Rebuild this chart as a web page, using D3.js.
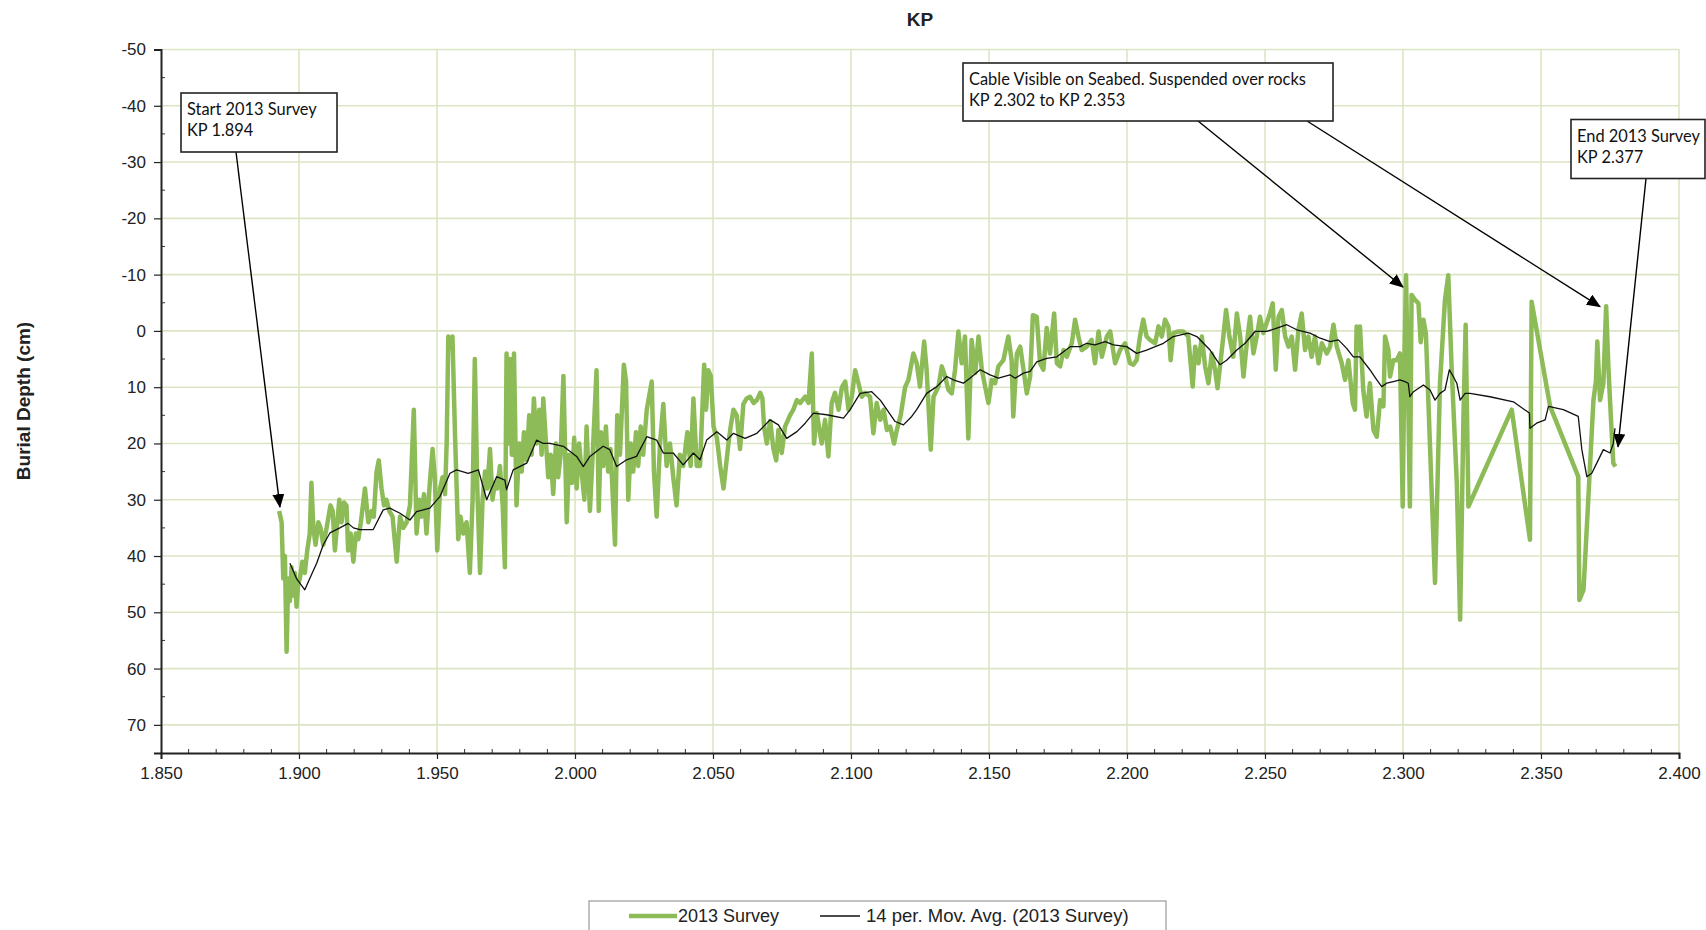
<!DOCTYPE html>
<html>
<head>
<meta charset="utf-8">
<script src="https://cdn.jsdelivr.net/npm/d3@7"></script>
<style>
  body { margin: 0; background: #fff; }
  svg { display: block; font-family: "Liberation Sans", Arial, sans-serif; }
</style>
</head>
<body>
<svg id="chart" width="1706" height="930"></svg>
<script>
//
// Data: [KP, burial depth cm]
//
const survey2013 = [
  [1.8928,32],[1.8937,34],[1.8943,44],[1.8949,40],[1.8955,57],[1.8961,44],[1.8967,48],[1.8973,42],
  [1.8979,47],[1.8985,43],[1.8991,49],[1.8997,45],[1.9003,44],[1.9012,41],[1.9021,43],[1.9030,39],
  [1.9039,36],[1.9045,27],[1.9052,35],[1.9060,38],[1.9070,34],[1.9078,35],[1.9088,38],[1.9100,35],
  [1.9114,31],[1.9122,32],[1.9130,39],[1.9139,34],[1.9146,30],[1.9154,34],[1.9163,30.5],[1.9172,31],
  [1.9178,39],[1.9187,36],[1.9197,41],[1.9206,36],[1.9215,37],[1.9224,34],[1.9239,28],[1.9251,34],
  [1.9263,32],[1.9271,33],[1.9281,25],[1.9289,23],[1.9299,28],[1.9308,31],[1.9317,30],[1.9327,32],
  [1.9339,33],[1.9354,41],[1.9366,33],[1.9378,35],[1.9390,34],[1.9402,31],[1.9416,14],[1.9426,36],
  [1.9436,30],[1.9444,33],[1.9453,29],[1.9462,36],[1.9474,27],[1.9484,21],[1.9492,26],[1.9501,39],
  [1.9511,28],[1.9520,26],[1.9529,29],[1.9535,20],[1.9541,1],[1.9549,3],[1.9556,1],[1.9565,18],
  [1.9577,37],[1.9585,33],[1.9595,36],[1.9607,34],[1.9619,43],[1.9629,30],[1.9637,5],[1.9646,28],
  [1.9656,43],[1.9665,30],[1.9674,25],[1.9682,28],[1.9692,21],[1.9701,30],[1.9710,27],[1.9718,28],
  [1.9728,24],[1.9738,31],[1.9746,42],[1.9752,4],[1.9759,20],[1.9765,5],[1.9771,22],[1.9779,4],
  [1.9788,31],[1.9798,20],[1.9807,25],[1.9815,18],[1.9825,23],[1.9834,15],[1.9843,22],[1.9851,12],
  [1.9861,20],[1.9871,14],[1.9879,22],[1.9885,12],[1.9895,20],[1.9903,26],[1.9912,22],[1.9921,29],
  [1.9931,20],[1.9939,26],[1.9948,22],[1.9958,8],[1.9970,34],[1.9979,22],[1.9989,27],[1.9997,19],
  [2.0006,28],[2.0015,20],[2.0024,25],[2.0034,30],[2.0042,17],[2.0054,32],[2.0066,20],[2.0078,7],
  [2.0086,32],[2.0094,18],[2.0102,24],[2.0112,17],[2.0120,25],[2.0129,21],[2.0145,38],[2.0153,15],
  [2.0163,22],[2.0177,6],[2.0185,9],[2.0193,30],[2.0202,20],[2.0211,25],[2.0221,18],[2.0229,24],
  [2.0238,17],[2.0247,22],[2.0260,14],[2.0278,9],[2.0286,25],[2.0296,33],[2.0308,20],[2.0320,13],
  [2.0332,24],[2.0344,20],[2.0356,26],[2.0368,31],[2.0380,22],[2.0392,24],[2.0407,18],[2.0419,24],
  [2.0429,12],[2.0441,24],[2.0453,24],[2.0468,6],[2.0475,14],[2.0483,7],[2.0492,8],[2.0502,17],
  [2.0514,19],[2.0526,24],[2.0538,28],[2.0547,24],[2.0556,20],[2.0564,17],[2.0574,14],[2.0586,15],
  [2.0598,21],[2.0610,13],[2.0622,12],[2.0634,11.7],[2.0647,12.8],[2.0659,12.3],[2.0671,11],[2.0679,12],
  [2.0685,17],[2.0695,20],[2.0707,16],[2.0719,21],[2.0729,23],[2.0737,17.6],[2.0749,21.7],[2.0761,17],
  [2.0779,15],[2.0791,14],[2.0804,12.3],[2.0816,12.8],[2.0834,11.7],[2.0846,12.8],[2.0858,4],[2.0866,20],
  [2.0876,14.6],[2.0894,20],[2.0906,15.8],[2.0918,22.3],[2.0930,12.8],[2.0942,11],[2.0955,14],[2.0967,10],
  [2.0979,9],[2.0991,14],[2.1003,11.7],[2.1015,7],[2.1027,9.3],[2.1039,11.7],[2.1051,11],[2.1069,11.7],
  [2.1081,18.2],[2.1093,12.8],[2.1106,15.8],[2.1118,14],[2.1130,17.6],[2.1142,17],[2.1156,20],[2.1166,17.6],
  [2.1180,15],[2.1196,10],[2.1208,8.7],[2.1226,4],[2.1238,5.75],[2.1250,9.9],[2.1265,1.9],[2.1274,6.9],
  [2.1289,21.1],[2.1299,11.7],[2.1317,9.9],[2.1329,6.3],[2.1341,8.1],[2.1353,10.5],[2.1365,11.1],[2.1377,6.9],
  [2.1389,0.1],[2.1401,5.75],[2.1413,1.0],[2.1425,19.1],[2.1437,1.6],[2.1450,7.5],[2.1462,1.0],[2.1474,6.9],
  [2.1486,9.9],[2.1498,12.8],[2.1510,8.7],[2.1522,9.3],[2.1534,6.3],[2.1552,5.2],[2.1570,1.0],[2.1582,5.2],
  [2.1588,15.2],[2.1601,4.0],[2.1613,2.8],[2.1625,6.9],[2.1637,11.1],[2.1649,8.1],[2.1659,-2.8],[2.1673,-2.5],
  [2.1685,5.75],[2.1697,6.9],[2.1709,-0.5],[2.1721,4.0],[2.1736,-3.1],[2.1746,5.75],[2.1758,6.3],[2.1770,3.4],
  [2.1782,4.6],[2.1800,2.2],[2.1812,-2.0],[2.1824,1.0],[2.1836,3.4],[2.1854,2.8],[2.1872,1.6],[2.1884,5.75],
  [2.1897,0.1],[2.1909,4.6],[2.1927,1.0],[2.1939,0.1],[2.1957,5.75],[2.1975,3.4],[2.1993,2.2],[2.2011,5.75],
  [2.2023,6.0],[2.2035,5.2],[2.2047,1.0],[2.2059,-2.0],[2.2071,1.0],[2.2083,1.6],[2.2102,2.2],[2.2114,-0.8],
  [2.2126,1.0],[2.2138,-2.0],[2.2150,-0.8],[2.2158,5.2],[2.2168,0.4],[2.2186,0.1],[2.2204,0.1],[2.2222,1.0],
  [2.2238,9.9],[2.2247,2.8],[2.2259,5.75],[2.2271,1.0],[2.2283,6.3],[2.2295,9.3],[2.2307,4.0],[2.2319,6.9],
  [2.2328,10.2],[2.2337,6.3],[2.2349,1.0],[2.2359,-3.7],[2.2371,1.0],[2.2385,4.6],[2.2398,-3.1],[2.2410,1.0],
  [2.2422,8.1],[2.2434,2.2],[2.2446,-2.5],[2.2458,4.0],[2.2470,1.0],[2.2482,-2.5],[2.2494,0.4],[2.2506,-1.4],
  [2.2518,-3.1],[2.2528,-4.9],[2.2539,6.9],[2.2549,-2.5],[2.2561,-3.7],[2.2573,1.0],[2.2585,2.8],[2.2597,1.0],
  [2.2609,6.9],[2.2621,-0.2],[2.2633,-3.1],[2.2645,3.4],[2.2657,1.0],[2.2669,4.6],[2.2681,1.0],[2.2694,5.75],
  [2.2706,2.2],[2.2724,4.0],[2.2736,2.8],[2.2748,-1.1],[2.2760,2.8],[2.2778,5.75],[2.2790,8.7],[2.2802,5.2],
  [2.2818,12.8],[2.2826,14.0],[2.2832,-0.8],[2.2838,3.4],[2.2844,-0.8],[2.2856,10.5],[2.2868,15.2],[2.2880,9.3],
  [2.2893,17.6],[2.2905,18.8],[2.2917,12.3],[2.2929,13.4],[2.2935,1.0],[2.2947,3.4],[2.2953,8.1],[2.2965,5.2],
  [2.2977,5.2],[2.2989,4.0],[2.2999,31.2],[2.3005,5.2],[2.3011,-9.9],[2.3018,9.3],[2.3025,31.2],[2.3031,-6.4],
  [2.3044,-5.5],[2.3056,-4.9],[2.3064,2.0],[2.3074,-2.0],[2.3083,0.5],[2.3116,44.8],[2.3134,9.3],[2.3152,-5.5],
  [2.3164,-9.9],[2.3176,6.3],[2.3195,27.1],[2.3207,51.3],[2.3219,15.2],[2.3227,-1.1],[2.3237,31.2],[2.3394,14.0],
  [2.3460,37.1],[2.3466,-5.2],[2.3533,13.4],[2.3635,25.9],[2.3639,47.8],[2.3654,46.0],[2.3668,33],[2.3690,12.3],
  [2.3699,9],[2.3704,1.9],[2.3714,12.3],[2.3726,9.3],[2.3736,-4.4],[2.3744,6.3],[2.3753,15.2],[2.3762,23.5],
  [2.3770,24.1]
];

// 14 per. moving average as drawn
const movingAvg = [
  [1.8967,41.3],[1.8991,44],[1.9021,46],[1.9039,44],[1.9064,41.3],[1.9088,38],[1.9112,35.9],[1.9148,35],
  [1.9178,34.2],[1.9197,35],[1.9221,35.3],[1.9269,35.3],[1.9305,31.8],[1.9329,31.5],[1.9366,32.4],[1.9402,33.6],
  [1.9426,32.1],[1.9474,31.5],[1.9511,29.4],[1.9547,25.3],[1.9571,24.7],[1.9613,25.3],[1.9650,24.7],[1.9680,30],
  [1.9716,25.9],[1.9746,26.5],[1.9752,28.2],[1.9776,24.7],[1.9825,23.5],[1.9861,19.4],[1.9885,20],[1.9909,20],
  [1.9958,20.5],[2.0006,22.3],[2.0030,24.1],[2.0054,22.3],[2.0102,20.5],[2.0126,21.1],[2.0151,24.1],[2.0187,22.9],
  [2.0223,22.3],[2.0260,18.8],[2.0296,19.4],[2.0320,21.7],[2.0356,21.7],[2.0392,23.8],[2.0429,21.7],[2.0453,22.9],
  [2.0477,19.4],[2.0514,17.9],[2.0550,19.4],[2.0574,18.2],[2.0616,19.1],[2.0659,18.2],[2.0707,15.8],[2.0737,16.7],
  [2.0767,19.1],[2.0804,17.9],[2.0834,16.4],[2.0864,14.6],[2.0912,14.9],[2.0973,15.5],[2.0997,14.0],[2.1033,11.1],
  [2.1075,10.8],[2.1106,12.3],[2.1130,14.0],[2.1160,16.1],[2.1190,16.7],[2.1220,15.2],[2.1238,14.0],[2.1274,11.1],
  [2.1311,9.9],[2.1347,8.1],[2.1371,8.7],[2.1407,9.3],[2.1431,8.4],[2.1468,6.9],[2.1504,7.8],[2.1534,8.4],
  [2.1576,7.8],[2.1595,8.4],[2.1625,7.5],[2.1649,7.2],[2.1673,5.5],[2.1709,4.9],[2.1746,4.6],[2.1770,3.7],
  [2.1794,2.8],[2.1830,2.8],[2.1854,2.2],[2.1884,2.5],[2.1921,1.9],[2.1951,2.5],[2.1999,2.8],[2.2035,4.0],
  [2.2071,3.4],[2.2132,2.2],[2.2168,1.0],[2.2222,0.4],[2.2253,1.0],[2.2301,3.4],[2.2325,5.2],[2.2337,6.0],
  [2.2361,5.2],[2.2398,3.4],[2.2428,2.2],[2.2464,0.1],[2.2506,0.1],[2.2543,-0.5],[2.2579,-1.1],[2.2615,-0.2],
  [2.2663,0.4],[2.2700,1.3],[2.2736,1.9],[2.2766,1.6],[2.2796,3.1],[2.2820,4.6],[2.2844,4.6],[2.2880,6.9],
  [2.2905,8.7],[2.2923,9.9],[2.2941,9.3],[2.2965,9.0],[2.2989,8.7],[2.3007,9.0],[2.3019,9.3],[2.3025,11.7],
  [2.3038,10.8],[2.3074,9.6],[2.3098,10.5],[2.3116,12.3],[2.3134,11.1],[2.3152,10.5],[2.3168,6.9],[2.3182,8.1],
  [2.3195,9.3],[2.3207,12.3],[2.3225,11.1],[2.3243,11.1],[2.3315,11.7],[2.3400,12.6],[2.3458,14.6],[2.3460,17.3],
  [2.3484,16.4],[2.3515,15.8],[2.3527,13.4],[2.3581,14.0],[2.3635,15.2],[2.3648,21.1],[2.3666,25.9],[2.3684,25.3],
  [2.3702,23.5],[2.3726,21.1],[2.3750,21.7],[2.3762,20.0],[2.3768,17.3]
];

const xTicks = [1.85, 1.9, 1.95, 2.0, 2.05, 2.1, 2.15, 2.2, 2.25, 2.3, 2.35, 2.4];
const yTicks = [-50, -40, -30, -20, -10, 0, 10, 20, 30, 40, 50, 60, 70];

// annotation boxes: text lines and the points their arrows hit [KP, depth]
const notes = [
  { lines: ["Start 2013 Survey", "KP 1.894"], box: [181, 93, 156, 59], from: [[236, 152]], to: [[1.8931, 31.3]] },
  { lines: ["Cable Visible on Seabed. Suspended over rocks", "KP 2.302 to KP 2.353"], box: [963, 63, 370, 58],
    from: [[1198, 121], [1307, 121]], to: [[2.3000, -7.8], [2.3714, -4.3]] },
  { lines: ["End 2013 Survey", "KP 2.377"], box: [1571, 119.5, 134, 59], from: [[1646, 178.5]], to: [[2.3779, 20.6]] }
];

const seriesNames = ["2013 Survey", "14 per. Mov. Avg. (2013 Survey)"];

//
// Setup
//
const colorSurvey = "#8dbb58";
const colorGrid = "#dbe5c3";

const svg = d3.select("#chart");
const x = d3.scaleLinear().domain([1.85, 2.4]).range([161, 1679]);
const y = d3.scaleLinear().domain([-50, 75]).range([49.5, 753]);

// gridlines
svg.append("g").selectAll("line").data(yTicks).join("line")
  .attr("x1", x(1.85)).attr("x2", x(2.4))
  .attr("y1", d => y(d)).attr("y2", d => y(d))
  .attr("stroke", colorGrid).attr("stroke-width", 1.6);
svg.append("g").selectAll("line").data(xTicks.slice(1)).join("line")
  .attr("x1", d => x(d)).attr("x2", d => x(d))
  .attr("y1", y(-50)).attr("y2", y(75))
  .attr("stroke", colorGrid).attr("stroke-width", 1.6);

// minor ticks (inside)
const xMinor = d3.range(1.86, 2.4, 0.01).filter(v => Math.abs(v * 20 - Math.round(v * 20)) > 0.01);
svg.append("g").selectAll("line").data(xMinor).join("line")
  .attr("x1", d => x(d)).attr("x2", d => x(d))
  .attr("y1", y(75)).attr("y2", y(75) - 4)
  .attr("stroke", "#333").attr("stroke-width", 1);
const yMinor = d3.range(-45, 75, 10);
svg.append("g").selectAll("line").data(yMinor).join("line")
  .attr("x1", x(1.85)).attr("x2", x(1.85) + 4)
  .attr("y1", d => y(d)).attr("y2", d => y(d))
  .attr("stroke", "#333").attr("stroke-width", 1);

// axes
const yAxis = svg.append("g")
  .attr("transform", `translate(${x(1.85)},0)`)
  .call(d3.axisLeft(y).tickValues(yTicks).tickSize(7).tickPadding(8).tickFormat(d => String(d)));
const xAxis = svg.append("g")
  .attr("transform", `translate(0,${y(75)})`)
  .call(d3.axisBottom(x).tickValues(xTicks).tickSize(6).tickPadding(8).tickFormat(d3.format(".3f")));
[xAxis, yAxis].forEach(g => {
  g.select(".domain").attr("stroke", "#222").attr("stroke-width", 2);
  g.selectAll(".tick line").attr("stroke", "#222").attr("stroke-width", 1.2);
  g.selectAll("text").attr("font-size", 17).attr("fill", "#222")
    .attr("font-family", "'Liberation Sans', Arial, sans-serif");
});

// series
const line = d3.line().x(d => x(d[0])).y(d => y(d[1]));
svg.append("path").datum(survey2013)
  .attr("d", line).attr("fill", "none")
  .attr("stroke", colorSurvey).attr("stroke-width", 4.5)
  .attr("stroke-linejoin", "round");
svg.append("path").datum(movingAvg)
  .attr("d", line).attr("fill", "none")
  .attr("stroke", "#111").attr("stroke-width", 1.3)
  .attr("stroke-linejoin", "round");

// titles
svg.append("text").attr("x", 920).attr("y", 26)
  .attr("text-anchor", "middle").attr("font-weight", "bold").attr("font-size", 19)
  .attr("fill", "#222").text("KP");
svg.append("text").attr("transform", "translate(30,401) rotate(-90)")
  .attr("text-anchor", "middle").attr("font-weight", "bold").attr("font-size", 19)
  .attr("fill", "#222").text("Burial Depth (cm)");

// annotations
svg.append("defs").append("marker")
  .attr("id", "arrow").attr("markerUnits", "userSpaceOnUse")
  .attr("markerWidth", 14).attr("markerHeight", 12)
  .attr("refX", 13).attr("refY", 6).attr("orient", "auto")
  .append("path").attr("d", "M0,0 L14,6 L0,12 Z").attr("fill", "#000");

notes.forEach(n => {
  n.from.forEach((f, i) => {
    svg.append("line")
      .attr("x1", f[0]).attr("y1", f[1])
      .attr("x2", x(n.to[i][0])).attr("y2", y(n.to[i][1]))
      .attr("stroke", "#000").attr("stroke-width", 1.4)
      .attr("marker-end", "url(#arrow)");
  });
  const [bx, by, bw, bh] = n.box;
  svg.append("rect").attr("x", bx).attr("y", by).attr("width", bw).attr("height", bh)
    .attr("fill", "#fff").attr("stroke", "#222").attr("stroke-width", 1.6);
  n.lines.forEach((t, i) => {
    svg.append("text").attr("x", bx + 6).attr("y", by + 22 + i * 21)
      .attr("font-family", "Lato, 'Open Sans', sans-serif").attr("font-size", 16.4)
      .attr("fill", "#111").text(t);
  });
});

// legend
const legend = svg.append("g");
legend.append("rect").attr("x", 589).attr("y", 901).attr("width", 577).attr("height", 40)
  .attr("fill", "#fff").attr("stroke", "#999").attr("stroke-width", 1.2);
legend.append("line").attr("x1", 629).attr("x2", 677).attr("y1", 916).attr("y2", 916)
  .attr("stroke", colorSurvey).attr("stroke-width", 4.5);
legend.append("text").attr("x", 678).attr("y", 922).attr("font-size", 18).attr("fill", "#222")
  .text(seriesNames[0]);
legend.append("line").attr("x1", 820).attr("x2", 860).attr("y1", 916).attr("y2", 916)
  .attr("stroke", "#111").attr("stroke-width", 1.3);
legend.append("text").attr("x", 866).attr("y", 922).attr("font-size", 18.5).attr("fill", "#222")
  .text(seriesNames[1]);
</script>
</body>
</html>
